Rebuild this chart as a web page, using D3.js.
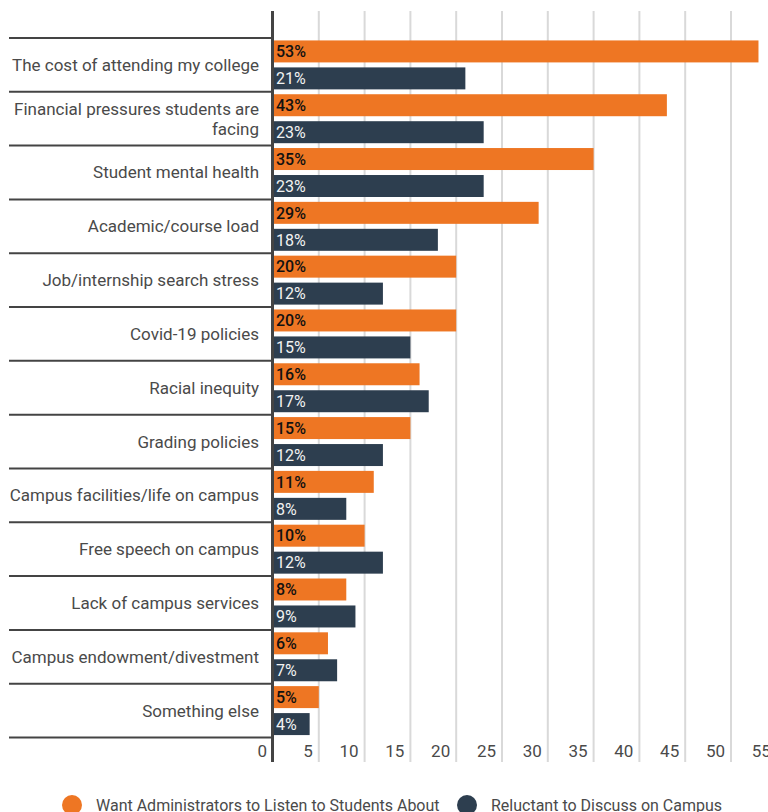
<!DOCTYPE html>
<html>
<head>
  <meta charset="utf-8">
  <title>Campus topics</title>
<script src="https://d3js.org/d3.v7.min.js"></script>
  <style>
    body { margin: 0; background: #fff; }
    svg { display: block; font-family: Roboto, "Noto Sans", sans-serif; }
    .grid line { stroke: #d9d9d9; stroke-width: 2px; }
    .sep { stroke: #444; stroke-width: 2px; }
    .cat { font-size: 17px; fill: #4a4a4a; }
    .tick-label { font-size: 17px; fill: #4a4a4a; }
    .legend text { font-size: 16px; fill: #4a4a4a; }
  </style>
</head>
<body>
  <script>
    const categories = [
      "The cost of attending my college",
      "Financial pressures students are facing",
      "Student mental health",
      "Academic/course load",
      "Job/internship search stress",
      "Covid-19 policies",
      "Racial inequity",
      "Grading policies",
      "Campus facilities/life on campus",
      "Free speech on campus",
      "Lack of campus services",
      "Campus endowment/divestment",
      "Something else"
    ];
    const wantListen = [53, 43, 35, 29, 20, 20, 16, 15, 11, 10, 8, 6, 5];
    const reluctant = [21, 23, 23, 18, 12, 15, 17, 12, 8, 12, 9, 7, 4];
    const seriesNames = ["Want Administrators to Listen to Students About", "Reluctant to Discuss on Campus"];
    const seriesColors = ["#ee7623", "#2d3e4f"];
    const xTicks = [0, 5, 10, 15, 20, 25, 30, 35, 40, 45, 50, 55];

    const width = 768, height = 812;
    const x0 = 273, plotTop = 11, plotBottom = 762;

    const rows = categories.map((c, i) => ({ cat: c, values: [wantListen[i], reluctant[i]] }));

    const svg = d3.select("body").append("svg")
        .attr("width", width)
        .attr("height", height);

    const x = d3.scaleLinear().domain([0, 55]).range([x0, x0 + 55 * 9.16]);
    const y = d3.scaleBand().domain(categories).range([38, 737.5]).paddingInner(0).paddingOuter(0);
    const ySub = d3.scaleBand().domain([0, 1]).range([0, y.bandwidth()])
        .paddingInner(0.185).paddingOuter(0.09);

    // gridlines
    svg.append("g").attr("class", "grid")
      .selectAll("line")
      .data(xTicks.filter(d => d > 0))
      .enter().append("line")
        .attr("x1", d => x(d)).attr("x2", d => x(d))
        .attr("y1", plotTop).attr("y2", plotBottom);

    // tick labels
    svg.append("g")
      .selectAll("text")
      .data(xTicks)
      .enter().append("text")
        .attr("class", "tick-label")
        .attr("x", d => x(d) - 6)
        .attr("y", 751)
        .attr("dy", "0.35em")
        .attr("text-anchor", "end")
        .text(d => d);

    // category separators
    const seps = categories.map(c => y(c)).concat([y(categories[categories.length - 1]) + y.bandwidth()]);
    svg.append("g")
      .selectAll("line")
      .data(seps)
      .enter().append("line")
        .attr("class", "sep")
        .attr("x1", 9).attr("x2", x0)
        .attr("y1", d => d).attr("y2", d => d);

    // bars
    const group = svg.append("g")
      .selectAll("g")
      .data(rows)
      .enter().append("g")
        .attr("transform", d => "translate(0," + y(d.cat) + ")");

    group.selectAll("rect")
      .data(d => d.values)
      .enter().append("rect")
        .attr("x", x(0))
        .attr("y", (d, i) => ySub(i))
        .attr("width", d => x(d) - x(0))
        .attr("height", ySub.bandwidth())
        .attr("fill", (d, i) => seriesColors[i]);

    group.selectAll("text.val")
      .data(d => d.values)
      .enter().append("text")
        .attr("class", "val")
        .attr("x", x(0) + 3)
        .attr("y", (d, i) => ySub(i) + ySub.bandwidth() / 2)
        .attr("dy", "0.36em")
        .style("font-size", "16px")
        .style("font-weight", (d, i) => i === 0 ? 500 : 400)
        .attr("fill", (d, i) => i === 0 ? "#111" : "#f2f2f2")
        .text(d => d + "%");

    // category labels, wrapped
    const labels = svg.append("g")
      .selectAll("text")
      .data(categories)
      .enter().append("text")
        .attr("class", "cat")
        .attr("text-anchor", "end")
        .attr("x", 259);

    labels.each(function(d) {
      const t = d3.select(this);
      const words = d.split(" ");
      const lines = [];
      let line = [];
      const probe = t.append("tspan");
      words.forEach(w => {
        line.push(w);
        probe.text(line.join(" "));
        if (probe.node().getComputedTextLength() > 256 && line.length > 1) {
          line.pop();
          lines.push(line.join(" "));
          line = [w];
        }
      });
      lines.push(line.join(" "));
      probe.remove();
      const lh = 20;
      const cy = y(d) + y.bandwidth() / 2;
      lines.forEach((l, i) => {
        t.append("tspan")
          .attr("x", 259)
          .attr("y", cy + (i - (lines.length - 1) / 2) * lh)
          .attr("dy", "0.35em")
          .text(l);
      });
    });

    // axis line
    svg.append("line")
      .attr("x1", x0 - 0.5).attr("x2", x0 - 0.5)
      .attr("y1", plotTop).attr("y2", plotBottom)
      .attr("stroke", "#444").attr("stroke-width", 3);

    // legend
    const legendX = [72, 467];
    const legend = svg.append("g").attr("class", "legend")
      .selectAll("g")
      .data(seriesNames)
      .enter().append("g")
        .attr("transform", (d, i) => "translate(" + legendX[i] + ",805)");
    legend.append("circle").attr("r", 10).attr("fill", (d, i) => seriesColors[i]);
    legend.append("text").attr("x", 24).attr("dy", "0.35em").text(d => d);
  </script>
</body>
</html>
